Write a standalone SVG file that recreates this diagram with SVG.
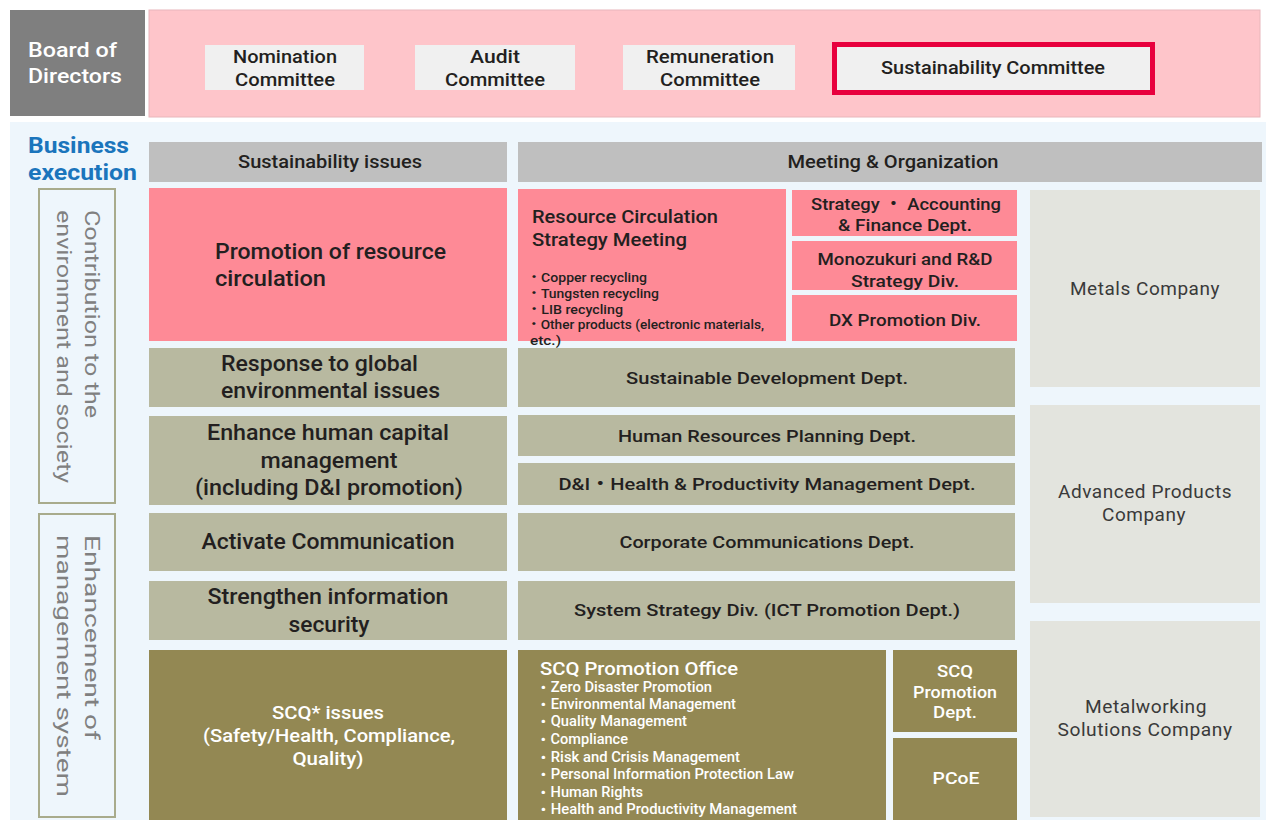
<svg xmlns="http://www.w3.org/2000/svg" width="1266" height="820" viewBox="0 0 1266 820">
<style>
text{font-family:Roboto,"Liberation Sans","Noto Sans CJK JP",sans-serif;}
.d{fill:#231f20;font-weight:500;}
.w{fill:#ffffff;font-weight:500;}
.c{text-anchor:middle;}
.pink{fill:#fe8a96;}
.olive{fill:#b8b9a0;}
.dark{fill:#938853;}
.hdr{fill:#bfbfbf;}
.comm{fill:#f0f0f0;}
.co{fill:#e3e4de;}
.cot{fill:#3a3a3a;font-weight:400;font-size:18px;text-anchor:middle;letter-spacing:0.5px;}
.vt{fill:#808080;font-size:20px;font-weight:400;}
.vbox{fill:none;stroke:#a8ab8c;stroke-width:2;}
</style>
<rect x="0" y="0" width="1266" height="820" fill="#ffffff"/>
<rect x="10" y="122" width="1256" height="698" fill="#eef6fc"/>

<g id="board">
<rect x="10" y="10" width="135" height="106" fill="#7f7f7f"/>
<text x="28" y="57" font-size="20" fill="#ffffff" font-weight="500" textLength="89" lengthAdjust="spacingAndGlyphs">Board of</text>
<text x="28" y="83" font-size="20" fill="#ffffff" font-weight="500" textLength="94" lengthAdjust="spacingAndGlyphs">Directors</text>
</g>
<g id="committees-band">
<rect x="149" y="10" width="1111" height="107" fill="#fec5ca" stroke="#e8b6bb" stroke-width="1"/>
</g>
<g id="nomination">
<rect x="205" y="45" width="159" height="45" class="comm"/>
<text x="285" y="63" font-size="18" class="d c" textLength="104" lengthAdjust="spacingAndGlyphs">Nomination</text>
<text x="285" y="86" font-size="18" class="d c" textLength="100" lengthAdjust="spacingAndGlyphs">Committee</text>
</g>
<g id="audit">
<rect x="415" y="45" width="160" height="45" class="comm"/>
<text x="495" y="63" font-size="18" class="d c" textLength="50" lengthAdjust="spacingAndGlyphs">Audit</text>
<text x="495" y="86" font-size="18" class="d c" textLength="100" lengthAdjust="spacingAndGlyphs">Committee</text>
</g>
<g id="remuneration">
<rect x="623" y="45" width="172" height="45" class="comm"/>
<text x="710" y="63" font-size="18" class="d c" textLength="128" lengthAdjust="spacingAndGlyphs">Remuneration</text>
<text x="710" y="86" font-size="18" class="d c" textLength="100" lengthAdjust="spacingAndGlyphs">Committee</text>
</g>
<g id="sustainability-committee">
<rect x="834.5" y="44.5" width="318" height="48" fill="#f0f0f0" stroke="#e8003d" stroke-width="5"/>
<text x="993" y="74" font-size="18" class="d c" textLength="224" lengthAdjust="spacingAndGlyphs">Sustainability Committee</text>
</g>

<g id="business-execution">
<text x="28" y="153" font-size="22" fill="#1b75bc" font-weight="700" textLength="101" lengthAdjust="spacingAndGlyphs">Business</text>
<text x="28" y="180" font-size="22" fill="#1b75bc" font-weight="700" textLength="109" lengthAdjust="spacingAndGlyphs">execution</text>
</g>

<g id="hdr-issues">
<rect x="149" y="142" width="358" height="40" class="hdr"/>
<text x="330" y="168" font-size="18" class="d c" textLength="184" lengthAdjust="spacingAndGlyphs">Sustainability issues</text>
</g>
<g id="hdr-meeting">
<rect x="518" y="142" width="744" height="40" class="hdr"/>
<text x="893" y="168" font-size="18" class="d c" textLength="211" lengthAdjust="spacingAndGlyphs">Meeting &amp; Organization</text>
</g>

<g id="cat-environment">
<rect x="39" y="189" width="76" height="314" class="vbox"/>
<text transform="translate(85,210) rotate(90)" class="vt" textLength="208" lengthAdjust="spacingAndGlyphs">Contribution to the</text>
<text transform="translate(57,210) rotate(90)" class="vt" textLength="273" lengthAdjust="spacingAndGlyphs">environment and society</text>
</g>
<g id="cat-management">
<rect x="39" y="514" width="76" height="303" class="vbox"/>
<text transform="translate(85,535) rotate(90)" class="vt" textLength="205" lengthAdjust="spacingAndGlyphs">Enhancement of</text>
<text transform="translate(57,535) rotate(90)" class="vt" textLength="262" lengthAdjust="spacingAndGlyphs">management system</text>
</g>

<g id="issue-resource">
<rect x="149" y="188" width="358" height="153" class="pink"/>
<text x="215" y="259" font-size="22" class="d" textLength="231" lengthAdjust="spacingAndGlyphs">Promotion of resource</text>
<text x="215" y="286" font-size="22" class="d" textLength="111" lengthAdjust="spacingAndGlyphs">circulation</text>
</g>
<g id="issue-global">
<rect x="149" y="348" width="358" height="59" class="olive"/>
<text x="221" y="371" font-size="22" class="d" textLength="197" lengthAdjust="spacingAndGlyphs">Response to global</text>
<text x="221" y="398" font-size="22" class="d" textLength="219" lengthAdjust="spacingAndGlyphs">environmental issues</text>
</g>
<g id="issue-human">
<rect x="149" y="416" width="358" height="89" class="olive"/>
<text x="328" y="440" font-size="22" class="d c" textLength="242" lengthAdjust="spacingAndGlyphs">Enhance human capital</text>
<text x="329" y="468" font-size="22" class="d c" textLength="137" lengthAdjust="spacingAndGlyphs">management</text>
<text x="329" y="495" font-size="22" class="d c" textLength="268" lengthAdjust="spacingAndGlyphs">(including D&amp;I promotion)</text>
</g>
<g id="issue-communication">
<rect x="149" y="513" width="358" height="58" class="olive"/>
<text x="328" y="549" font-size="22" class="d c" textLength="253" lengthAdjust="spacingAndGlyphs">Activate Communication</text>
</g>
<g id="issue-security">
<rect x="149" y="581" width="358" height="59" class="olive"/>
<text x="328" y="604" font-size="22" class="d c" textLength="241" lengthAdjust="spacingAndGlyphs">Strengthen information</text>
<text x="329" y="632" font-size="22" class="d c" textLength="81" lengthAdjust="spacingAndGlyphs">security</text>
</g>
<g id="issue-scq">
<rect x="149" y="650" width="358" height="170" class="dark"/>
<text x="328" y="719" font-size="19" class="w c" textLength="112" lengthAdjust="spacingAndGlyphs">SCQ* issues</text>
<text x="329" y="742" font-size="19" class="w c" textLength="252" lengthAdjust="spacingAndGlyphs">(Safety/Health, Compliance,</text>
<text x="328" y="765" font-size="19" class="w c" textLength="71" lengthAdjust="spacingAndGlyphs">Quality)</text>
</g>

<g id="rc-meeting">
<rect x="518" y="189" width="268" height="152" class="pink"/>
<text x="532" y="223" font-size="19" class="d" textLength="186" lengthAdjust="spacingAndGlyphs">Resource Circulation</text>
<text x="532" y="246" font-size="19" class="d" textLength="155" lengthAdjust="spacingAndGlyphs">Strategy Meeting</text>
<text x="527" y="282" font-size="12" class="d" font-weight="700" textLength="120" lengthAdjust="spacingAndGlyphs">・Copper recycling</text>
<text x="527" y="298" font-size="12" class="d" font-weight="700" textLength="132" lengthAdjust="spacingAndGlyphs">・Tungsten recycling</text>
<text x="527" y="314" font-size="12" class="d" font-weight="700" textLength="96" lengthAdjust="spacingAndGlyphs">・LIB recycling</text>
<text x="527" y="329" font-size="12" class="d" font-weight="700" textLength="237" lengthAdjust="spacingAndGlyphs">・Other products (electronic materials,</text>
<text x="530" y="345" font-size="12" class="d" font-weight="700" textLength="31" lengthAdjust="spacingAndGlyphs">etc.)</text>
</g>
<g id="strategy-accounting">
<rect x="792" y="190" width="225" height="46" class="pink"/>
<text x="906" y="210" font-size="17" class="d c" textLength="190" lengthAdjust="spacingAndGlyphs">Strategy ・ Accounting</text>
<text x="905" y="231" font-size="17" class="d c" textLength="134" lengthAdjust="spacingAndGlyphs">&amp; Finance Dept.</text>
</g>
<g id="monozukuri">
<rect x="792" y="241" width="225" height="49" class="pink"/>
<text x="905" y="265" font-size="17" class="d c" textLength="175" lengthAdjust="spacingAndGlyphs">Monozukuri and R&amp;D</text>
<text x="905" y="287" font-size="17" class="d c" textLength="108" lengthAdjust="spacingAndGlyphs">Strategy Div.</text>
</g>
<g id="dx-promotion">
<rect x="792" y="295" width="225" height="46" class="pink"/>
<text x="905" y="326" font-size="17" class="d c" textLength="152" lengthAdjust="spacingAndGlyphs">DX Promotion Div.</text>
</g>
<g id="sustainable-dev">
<rect x="518" y="348" width="497" height="59" class="olive"/>
<text x="767" y="384" font-size="17" class="d c" textLength="282" lengthAdjust="spacingAndGlyphs">Sustainable Development Dept.</text>
</g>
<g id="hr-planning">
<rect x="518" y="415" width="497" height="41" class="olive"/>
<text x="767" y="442" font-size="17" class="d c" textLength="298" lengthAdjust="spacingAndGlyphs">Human Resources Planning Dept.</text>
</g>
<g id="di-health">
<rect x="518" y="463" width="497" height="42" class="olive"/>
<text x="767" y="490" font-size="17" class="d c" textLength="417" lengthAdjust="spacingAndGlyphs">D&amp;I・Health &amp; Productivity Management Dept.</text>
</g>
<g id="corp-comm">
<rect x="518" y="513" width="497" height="58" class="olive"/>
<text x="767" y="548" font-size="17" class="d c" textLength="295" lengthAdjust="spacingAndGlyphs">Corporate Communications Dept.</text>
</g>
<g id="system-strategy">
<rect x="518" y="581" width="497" height="59" class="olive"/>
<text x="767" y="616" font-size="17" class="d c" textLength="386" lengthAdjust="spacingAndGlyphs">System Strategy Div. (ICT Promotion Dept.)</text>
</g>
<g id="scq-office">
<rect x="518" y="650" width="368" height="170" class="dark"/>
<text x="540" y="675" font-size="19" class="w" textLength="198" lengthAdjust="spacingAndGlyphs">SCQ Promotion Office</text>
<text x="536" y="692" font-size="14" class="w" textLength="176" lengthAdjust="spacingAndGlyphs">・Zero Disaster Promotion</text>
<text x="536" y="709" font-size="14" class="w" textLength="200" lengthAdjust="spacingAndGlyphs">・Environmental Management</text>
<text x="536" y="726" font-size="14" class="w" textLength="151" lengthAdjust="spacingAndGlyphs">・Quality Management</text>
<text x="536" y="744" font-size="14" class="w" textLength="92" lengthAdjust="spacingAndGlyphs">・Compliance</text>
<text x="536" y="762" font-size="14" class="w" textLength="204" lengthAdjust="spacingAndGlyphs">・Risk and Crisis Management</text>
<text x="536" y="779" font-size="14" class="w" textLength="258" lengthAdjust="spacingAndGlyphs">・Personal Information Protection Law</text>
<text x="536" y="797" font-size="14" class="w" textLength="107" lengthAdjust="spacingAndGlyphs">・Human Rights</text>
<text x="536" y="814" font-size="14" class="w" textLength="261" lengthAdjust="spacingAndGlyphs">・Health and Productivity Management</text>
</g>
<g id="scq-dept">
<rect x="893" y="650" width="124" height="82" class="dark"/>
<text x="955" y="677" font-size="17" class="w c" textLength="36" lengthAdjust="spacingAndGlyphs">SCQ</text>
<text x="955" y="698" font-size="17" class="w c" textLength="84" lengthAdjust="spacingAndGlyphs">Promotion</text>
<text x="955" y="718" font-size="17" class="w c" textLength="44" lengthAdjust="spacingAndGlyphs">Dept.</text>
</g>
<g id="pcoe">
<rect x="893" y="738" width="124" height="82" class="dark"/>
<text x="956" y="784" font-size="17" class="w c" textLength="47" lengthAdjust="spacingAndGlyphs">PCoE</text>
</g>

<g id="metals-company">
<rect x="1030" y="190" width="230" height="197" class="co"/>
<text x="1145" y="295" class="cot" textLength="150" lengthAdjust="spacingAndGlyphs">Metals Company</text>
</g>
<g id="advanced-company">
<rect x="1030" y="405" width="230" height="198" class="co"/>
<text x="1145" y="498" class="cot" textLength="174" lengthAdjust="spacingAndGlyphs">Advanced Products</text>
<text x="1144" y="521" class="cot" textLength="84" lengthAdjust="spacingAndGlyphs">Company</text>
</g>
<g id="metalworking-company">
<rect x="1030" y="621" width="230" height="196" class="co"/>
<text x="1146" y="713" class="cot" textLength="122" lengthAdjust="spacingAndGlyphs">Metalworking</text>
<text x="1145" y="736" class="cot" textLength="175" lengthAdjust="spacingAndGlyphs">Solutions Company</text>
</g>
</svg>
